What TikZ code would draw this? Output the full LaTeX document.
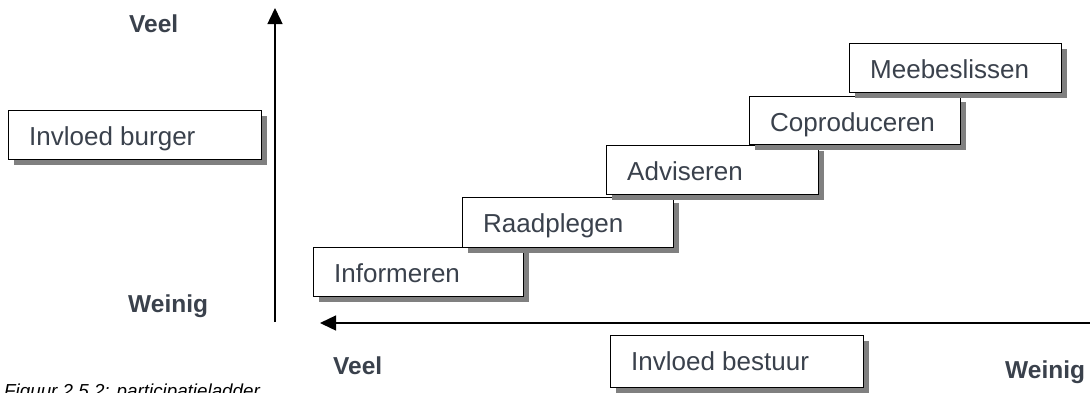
\documentclass[tikz,border=0pt]{standalone}
\usepackage{fontspec}
\setmainfont{Liberation Sans}
\usetikzlibrary{arrows.meta,shadows}
\definecolor{ink}{HTML}{3A414C}
\definecolor{shade}{HTML}{808080}
\tikzset{
  stepbox/.style={draw=black, line width=1.4pt, fill=white, inner sep=0pt,
    anchor=north west,
    drop shadow={shadow xshift=5pt, shadow yshift=-5pt, fill=shade, opacity=1}},
  boxtext/.style={anchor=base west, inner sep=0pt, text=ink, font=\fontsize{26}{30}\selectfont},
  axislabel/.style={anchor=base west, inner sep=0pt, text=ink, font=\bfseries\fontsize{24.5}{28}\selectfont},
  axis/.style={line width=1.4pt, -{Triangle[length=16pt,width=15pt]}},
}
\newcommand{\ladderbox}[6]{%
  % name, left, top, width, height, text
  \node[stepbox, minimum width=#4pt, minimum height=#5pt] (#1) at (#2,#3) {};
  \node[boxtext] (#1-t) at ([xshift=21pt,yshift=-35pt]#1.north west) {#6};
}
\begin{document}
\begin{tikzpicture}[x=1pt,y=-1pt]
  \useasboundingbox (0,0) rectangle (1090,392);

  % axes
  \coordinate (vbase) at (275,322);
  \coordinate (vtip) at (275,8);
  \coordinate (hbase) at (1092,323);
  \coordinate (htip) at (320,323);
  \draw[axis] (vbase) -- (vtip);
  \draw[axis] (hbase) -- (htip);

  % axis titles
  \ladderbox{burger}{8}{110}{253}{49}{Invloed burger}
  \ladderbox{bestuur}{610}{335}{253}{52}{Invloed bestuur}

  % ladder steps
  \ladderbox{informeren}{313}{247}{210}{49}{Informeren}
  \ladderbox{raadplegen}{462}{197}{211}{50}{Raadplegen}
  \ladderbox{adviseren}{606}{145}{212}{49}{Adviseren}
  \ladderbox{coproduceren}{749}{96}{211}{48}{Coproduceren}
  \ladderbox{meebeslissen}{849}{43}{212}{49}{Meebeslissen}

  % axis ends
  \node[axislabel] (vveel) at (129,32) {Veel};
  \node[axislabel] (vweinig) at (128,312) {Weinig};
  \node[axislabel] (hveel) at (333,374) {Veel};
  \node[axislabel] (hweinig) at (1005,378) {Weinig};

  % caption
  \node[anchor=base west, inner sep=0pt, text=black,
        font=\itshape\fontsize{18.8}{22}\selectfont] (caption) at (4,397)
        {Figuur 2.5.2: participatieladder};
\end{tikzpicture}
\end{document}
